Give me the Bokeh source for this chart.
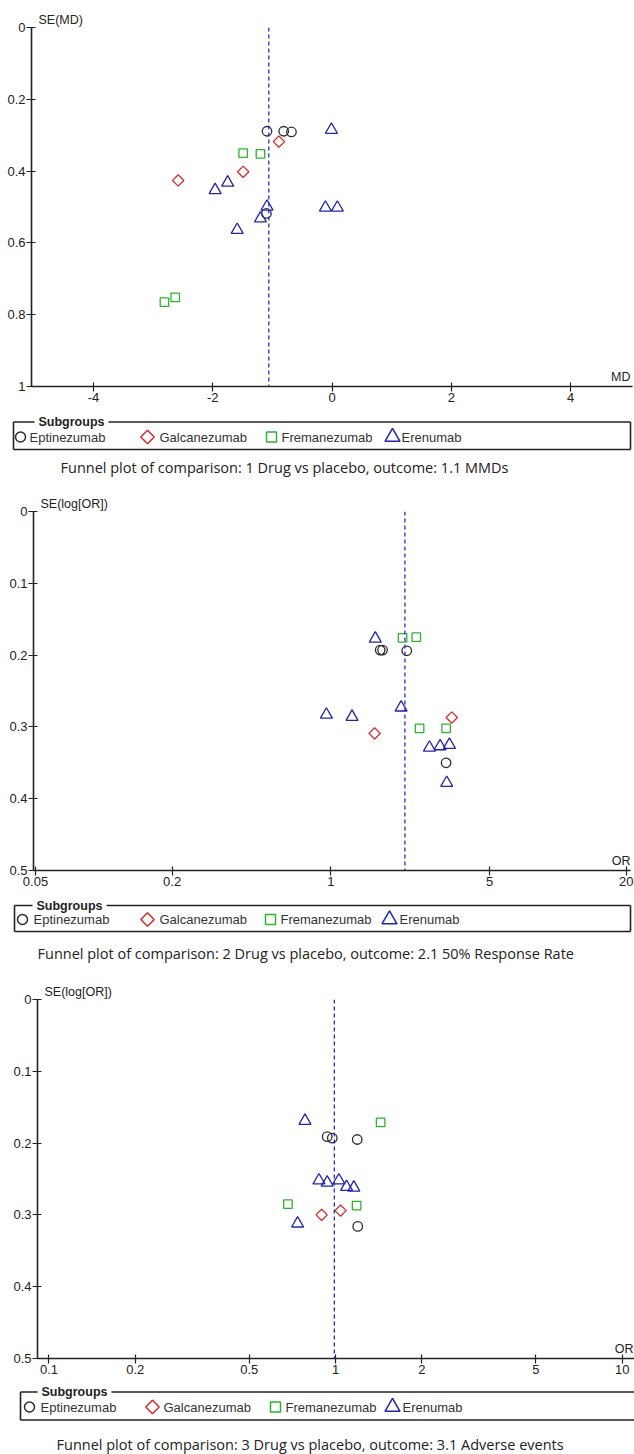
import math
from bokeh.plotting import figure
from bokeh.models import Range1d, FixedTicker, Span, Label
from bokeh.embed import file_html
from bokeh.resources import INLINE
from bokeh.core.properties import value

# ---------------- data ----------------
groups = ["Eptinezumab", "Galcanezumab", "Fremanezumab", "Erenumab"]

# Panel 1: 1.1 MMDs  (MD, SE(MD))
mmd_ept_md = [-1.09, -0.81, -0.68, -1.10]
mmd_ept_se = [0.289, 0.289, 0.291, 0.518]
mmd_gal_md = [-0.89, -1.49, -2.58]
mmd_gal_se = [0.318, 0.402, 0.426]
mmd_fre_md = [-1.49, -1.20, -2.81, -2.63]
mmd_fre_se = [0.350, 0.352, 0.765, 0.752]
mmd_ere_md = [-1.96, -1.75, -1.59, -1.20, -1.09, -0.01, -0.11, 0.09]
mmd_ere_se = [0.453, 0.432, 0.564, 0.532, 0.499, 0.285, 0.502, 0.502]
mmd_pooled = -1.06

# Panel 2: 2.1 50% Response Rate  (OR, SE(log[OR]))
rr_ept_or = [1.65, 1.69, 2.16, 3.22]
rr_ept_se = [0.193, 0.193, 0.194, 0.350]
rr_gal_or = [1.56, 3.41]
rr_gal_se = [0.309, 0.287]
rr_fre_or = [2.07, 2.38, 2.46, 3.22]
rr_fre_se = [0.176, 0.175, 0.302, 0.302]
rr_ere_or = [1.57, 0.956, 1.24, 2.04, 2.72, 3.03, 3.33, 3.24]
rr_ere_se = [0.177, 0.283, 0.286, 0.273, 0.329, 0.327, 0.325, 0.378]
rr_pooled = 2.12

# Panel 3: 3.1 Adverse events  (OR, SE(log[OR]))
ae_ept_or = [0.935, 0.974, 1.19, 1.195]
ae_ept_se = [0.191, 0.193, 0.195, 0.316]
ae_gal_or = [0.894, 1.041]
ae_gal_se = [0.300, 0.294]
ae_fre_or = [1.436, 0.682, 1.184]
ae_fre_se = [0.171, 0.285, 0.287]
ae_ere_or = [0.782, 0.737, 0.875, 0.935, 1.027, 1.092, 1.158]
ae_ere_se = [0.169, 0.312, 0.252, 0.255, 0.252, 0.261, 0.262]
ae_pooled = 0.99

# ticks
md_ticks = [-4, -2, 0, 2, 4]
md_tick_labels = ["-4", "-2", "0", "2", "4"]
se1_ticks = [0, 0.2, 0.4, 0.6, 0.8, 1]
se1_tick_labels = ["0", "0.2", "0.4", "0.6", "0.8", "1"]
or2_ticks = [0.05, 0.2, 1, 5, 20]
or2_tick_labels = ["0.05", "0.2", "1", "5", "20"]
or3_ticks = [0.1, 0.2, 0.5, 1, 2, 5, 10]
or3_tick_labels = ["0.1", "0.2", "0.5", "1", "2", "5", "10"]
se_ticks = [0, 0.1, 0.2, 0.3, 0.4, 0.5]
se_tick_labels = ["0", "0.1", "0.2", "0.3", "0.4", "0.5"]

captions = [
    "Funnel plot of comparison: 1 Drug vs placebo, outcome: 1.1 MMDs",
    "Funnel plot of comparison: 2 Drug vs placebo, outcome: 2.1 50% Response Rate",
    "Funnel plot of comparison: 3 Drug vs placebo, outcome: 3.1 Adverse events",
]

# ---------------- style ----------------
STYLE = {
    "Eptinezumab": dict(marker="circle", color="#2b2b2b", size=9.5, angle=0.0),
    "Galcanezumab": dict(marker="square", color="#d42c2c", size=8, angle=math.pi / 4),
    "Fremanezumab": dict(marker="square", color="#2cb52c", size=8.5, angle=0.0),
    "Erenumab": dict(marker="triangle", color="#2424a8", size=12, angle=0.0),
}
LEG_SIZE = {"Eptinezumab": 10, "Galcanezumab": 9.5, "Fremanezumab": 10, "Erenumab": 15}
AX = "#222222"
FONT = "Liberation Sans"


def make_plot(height, xr, yr, x_log, xt, xl, yt, yl, border, series, pooled, ylab, xlab, xlab_off):
    p = figure(width=634, height=height, x_range=xr, y_range=yr,
               x_axis_type="log" if x_log else "linear",
               toolbar_location=None, output_backend="svg",
               min_border_left=border[0], min_border_right=border[1],
               min_border_top=border[2], min_border_bottom=border[3])
    p.grid.visible = False
    p.outline_line_color = None
    # y-axis caption sits above the top of the axis, like RevMan
    p.title.text = ylab
    p.title.align = "left"
    p.title.offset = 7
    p.title.standoff = 2
    p.title.vertical_align = "bottom"
    p.title.text_font = FONT
    p.title.text_font_size = "12.5px"
    p.title.text_font_style = "normal"
    p.title.text_color = AX
    p.xaxis.ticker = FixedTicker(ticks=xt, minor_ticks=[])
    p.yaxis.ticker = FixedTicker(ticks=yt, minor_ticks=[])
    p.xaxis.major_label_overrides = dict(zip(xt, xl))
    p.yaxis.major_label_overrides = dict(zip(yt, yl))
    for ax in (p.xaxis, p.yaxis):
        ax.axis_line_color = AX
        ax.axis_line_width = 1.6
        ax.major_tick_line_color = AX
        ax.major_tick_line_width = 1.2
        ax.minor_tick_line_color = None
        ax.major_tick_in = 4
        ax.major_tick_out = 5
        ax.major_label_standoff = 1
        ax.major_label_text_font = FONT
        ax.major_label_text_font_size = "13px"
        ax.major_label_text_color = AX
    p.add_layout(Span(location=pooled, dimension="height", line_color="#2a2acc",
                      line_dash="4 3", line_width=1.3))
    for g, (xs, ys) in zip(groups, series):
        st = STYLE[g]
        p.scatter(x=xs, y=ys, marker=st["marker"], size=st["size"], angle=st["angle"],
                  fill_color=None, line_color=st["color"], line_width=1.3)
    p.add_layout(Label(x=xr.end, y=yr.start, text=xlab, x_offset=xlab_off, y_offset=10,
                       text_baseline="middle", text_align="right",
                       text_font=FONT, text_font_size="12.5px", text_color=AX))
    return p


def make_legend(height, box, header_y, items_y, bottom_y, header_x, pos, cap_x, cap_y, caption):
    p = figure(width=634, height=height, x_range=Range1d(0, 634), y_range=Range1d(height, 0),
               toolbar_location=None, output_backend="svg", min_border=0,
               min_border_left=0, min_border_right=0, min_border_top=0, min_border_bottom=0,
               x_axis_location=None, y_axis_location=None)
    p.grid.visible = False
    p.outline_line_color = None
    left, right = box
    hw = 66
    xs = [[left, header_x - 4], [header_x + hw + 4, right], [left, left], [left, right]]
    ys = [[header_y, header_y], [header_y, header_y],
          [header_y, bottom_y], [bottom_y, bottom_y]]
    if right < 634:
        xs.append([right, right])
        ys.append([header_y, bottom_y])
    p.multi_line(xs=xs, ys=ys, line_color=AX, line_width=1.6)
    p.text(x=[header_x], y=[header_y], text=["Subgroups"], text_font=value(FONT),
           text_font_size="12.5px", text_font_style="bold", text_color=AX,
           text_baseline="middle", text_align="left")
    for g, (mx, tx) in zip(groups, pos):
        st = STYLE[g]
        p.scatter(x=[mx], y=[items_y], marker=st["marker"], size=LEG_SIZE[g], angle=st["angle"],
                  fill_color=None, line_color=st["color"], line_width=1.5)
        p.text(x=[tx], y=[items_y], text=[g], text_font=value(FONT), text_font_size="13px",
               text_color="#333333", text_baseline="middle", text_align="left")
    p.text(x=[cap_x], y=[cap_y], text=[caption], text_font=value("Open Sans"),
           text_font_size="14.5px", text_color="#222222", text_baseline="middle", text_align="left")
    return p


p1 = make_plot(410, Range1d(-5.04, 5.04), Range1d(1, 0), False, md_ticks, md_tick_labels,
               se1_ticks, se1_tick_labels, (31, 2, 27, 24),
               [(mmd_ept_md, mmd_ept_se), (mmd_gal_md, mmd_gal_se),
                (mmd_fre_md, mmd_fre_se), (mmd_ere_md, mmd_ere_se)],
               mmd_pooled, "SE(MD)", "MD", -2)
l1 = make_legend(77, (13, 630), 11.5, 26.5, 39, 38,
                 [(20, 29), (147, 159), (271, 281), (392, 401)], 60, 57, captions[0])

p2 = make_plot(408, Range1d(0.049, 20.9), Range1d(0.5, 0), True, or2_ticks, or2_tick_labels,
               se_ticks, se_tick_labels, (33, 4, 24, 25),
               [(rr_ept_or, rr_ept_se), (rr_gal_or, rr_gal_se),
                (rr_fre_or, rr_fre_se), (rr_ere_or, rr_ere_se)],
               rr_pooled, "SE(log[OR])", "OR", 0)
l2 = make_legend(80, (14, 630), 10, 24, 36, 36,
                 [(22, 33), (147, 159), (270, 280), (389, 399)], 37, 58, captions[1])

p3 = make_plot(407, Range1d(0.0912, 11.04), Range1d(0.5, 0), True, or3_ticks, or3_tick_labels,
               se_ticks, se_tick_labels, (37, 0, 24, 24),
               [(ae_ept_or, ae_ept_se), (ae_gal_or, ae_gal_se),
                (ae_fre_or, ae_fre_se), (ae_ere_or, ae_ere_se)],
               ae_pooled, "SE(log[OR])", "OR", -1)
l3 = make_legend(72, (20, 640), 9.5, 24.5, 37.5, 41,
                 [(29, 40), (152, 163), (275, 285), (392, 402)], 56, 62, captions[2])

html = file_html([p1, l1, p2, l2, p3, l3], INLINE)
open("out.html", "w").write(html)
